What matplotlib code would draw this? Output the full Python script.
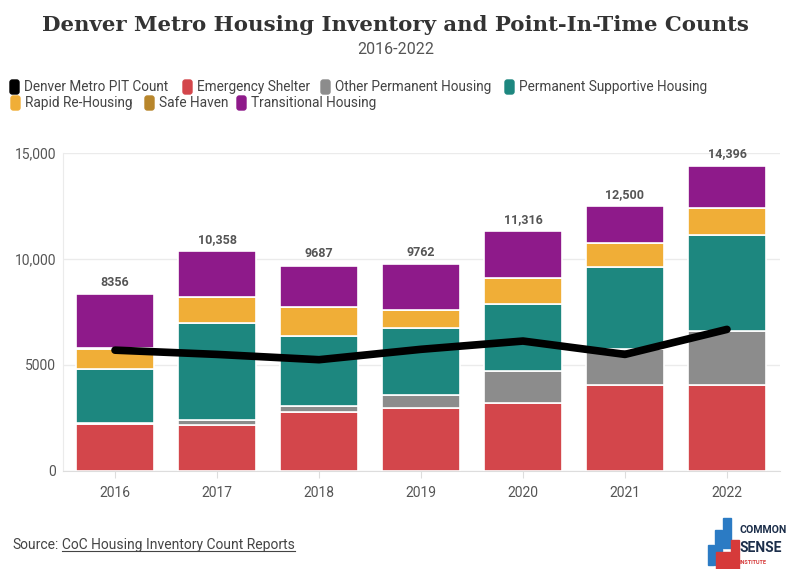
import numpy as np
import matplotlib.pyplot as plt
from matplotlib.patches import FancyBboxPatch, Rectangle

# datos
years = ['2016', '2017', '2018', '2019', '2020', '2021', '2022']
emergency = [2220, 2170, 2800, 2960, 3220, 4057, 4060]
other_perm = [30, 236, 280, 625, 1500, 1683, 2545]
perm_supp = [2560, 4560, 3290, 3145, 3145, 3868, 4528]
rapid = [945, 1256, 1350, 865, 1225, 1132, 1258]
safe_haven = [50, 0, 0, 0, 0, 0, 0]
transitional = [2551, 2136, 1967, 2167, 2226, 1760, 2005]
pit_count = [5700, 5500, 5250, 5740, 6130, 5500, 6680]
totals = ['8356', '10,358', '9687', '9762', '11,316', '12,500', '14,396']
yticks = [0, 5000, 10000, 15000]
ytick_labels = ['0', '5000', '10,000', '15,000']

series = [
    ('Emergency Shelter', emergency, '#d3464b'),
    ('Other Permanent Housing', other_perm, '#8c8c8c'),
    ('Permanent Supportive Housing', perm_supp, '#1d877f'),
    ('Rapid Re-Housing', rapid, '#f0ae37'),
    ('Safe Haven', safe_haven, '#b8862b'),
    ('Transitional Housing', transitional, '#8e1a8a'),
]

plt.rcParams['font.family'] = ['Roboto', 'DejaVu Sans']

fig = plt.figure(figsize=(7.91, 5.69), dpi=100)
ax = fig.add_axes([63 / 791, 1 - 471 / 569, (780 - 63) / 791, (471 - 153) / 569])

x = np.arange(len(years))
bottom = np.zeros(len(years))
for name, vals, col in series:
    vals = np.array(vals, dtype=float)
    ax.bar(x, vals, width=0.76, bottom=bottom, color=col, edgecolor='white',
           linewidth=1.2, zorder=2)
    bottom += vals

for i, lab in enumerate(totals):
    ax.text(x[i], bottom[i] + 250, lab, ha='center', va='bottom', fontsize=9,
            fontweight='bold', color='#555555', zorder=4)

ax.plot(x, pit_count, color='black', linewidth=5.5, solid_capstyle='round',
        solid_joinstyle='round', zorder=3)

ax.set_xlim(-0.51, 6.52)
ax.set_ylim(0, 15000)
ax.set_xticks(x)
ax.set_xticklabels(years, fontsize=10, color='#555555')
ax.set_yticks(yticks)
ax.set_yticklabels(ytick_labels, fontsize=10, color='#555555')
ax.grid(axis='y', color='#ebebeb', linewidth=1, zorder=0)
for s in ['top', 'right']:
    ax.spines[s].set_visible(False)
ax.spines['left'].set_color('#ebebeb')
ax.spines['bottom'].set_color('#dddddd')
ax.tick_params(axis='y', length=0, pad=5)
ax.tick_params(axis='x', length=5, color='#dddddd', pad=6)

# titulo y subtitulo
fig.text(0.5, 1 - 25 / 569, 'Denver Metro Housing Inventory and Point-In-Time Counts',
         ha='center', va='center', fontsize=15.3, fontweight='bold',
         family='DejaVu Serif', color='#333333')
fig.text(0.5, 1 - 50 / 569, '2016-2022', ha='center', va='center',
         fontsize=11.5, color='#555555')

# leyenda manual
legend_items = [
    ('Denver Metro PIT Count', 'black', 10, 87),
    ('Emergency Shelter', '#d3464b', 183, 87),
    ('Other Permanent Housing', '#8c8c8c', 321, 87),
    ('Permanent Supportive Housing', '#1d877f', 505, 87),
    ('Rapid Re-Housing', '#f0ae37', 11, 103),
    ('Safe Haven', '#b8862b', 145, 103),
    ('Transitional Housing', '#8e1a8a', 237, 103),
]
for label, col, px, py in legend_items:
    fig.patches.append(FancyBboxPatch((px / 791, 1 - (py + 7) / 569), 9 / 791, 14 / 569,
                                      boxstyle='round,pad=0,rounding_size=0.003',
                                      mutation_aspect=791 / 569,
                                      transform=fig.transFigure, color=col))
    fig.text((px + 14) / 791, 1 - py / 569, label, ha='left', va='center',
             fontsize=9.8, color='#444444')

# fuente
fig.text(12 / 791, 1 - 545 / 569, 'Source:', ha='left', va='center',
         fontsize=10, color='#444444')
link = fig.text(62 / 791, 1 - 545 / 569, 'CoC Housing Inventory Count Reports', ha='left',
                va='center', fontsize=10, color='#444444')
fig.canvas.draw()
bb = link.get_window_extent().transformed(fig.transFigure.inverted())
fig.lines.append(plt.Line2D([bb.x0, bb.x1], [bb.y0 + 0.001, bb.y0 + 0.001],
                            transform=fig.transFigure, color='#444444', linewidth=0.8))

# logo simple
for bx, by, bw, bh, col in [(708, 545, 6, 20, '#2b7bc4'), (715, 530, 7, 35, '#2b7bc4'),
                            (723, 518, 8, 30, '#2b7bc4'), (716, 552, 22, 17, '#d63a3a'),
                            (731, 540, 8, 29, '#d63a3a')]:
    fig.patches.append(Rectangle((bx / 791, 1 - (by + bh) / 569), bw / 791, bh / 569,
                                 transform=fig.transFigure, color=col))
fig.text(740 / 791, 1 - 530 / 569, 'COMMON', ha='left', va='center', fontsize=7.6,
         fontweight='bold', color='#1c2e4a')
fig.text(740 / 791, 1 - 548 / 569, 'SENSE', ha='left', va='center', fontsize=10,
         fontweight='bold', color='#1c2e4a')
fig.text(740 / 791, 1 - 563 / 569, 'INSTITUTE', ha='left', va='center', fontsize=4,
         fontweight='bold', color='#d63a3a')

fig.savefig('out.png', dpi=100)
